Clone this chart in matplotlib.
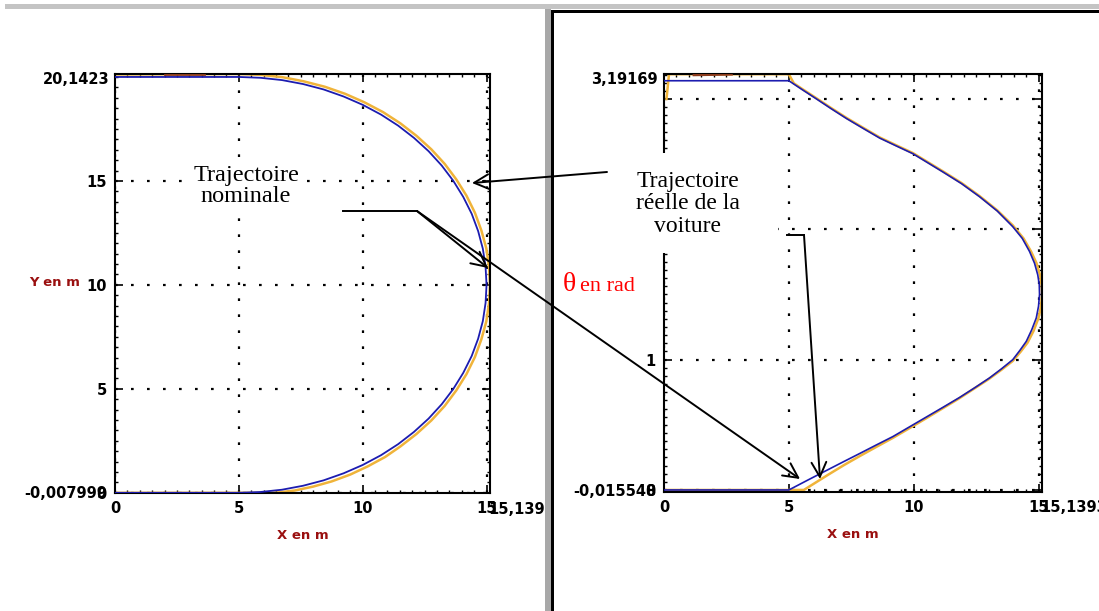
import matplotlib.pyplot as plt
from matplotlib.patches import Rectangle, FancyArrowPatch
from matplotlib.lines import Line2D
from matplotlib.ticker import MultipleLocator, FixedLocator

W, H = 1099, 611

# vue de dessus : y (m) en fonction de x (m)
x_nom = [0.0, 5.0, 5.87, 6.74, 7.59, 8.42, 9.23, 10.0, 10.74, 11.43, 12.07, 12.66,
         13.19, 13.66, 14.06, 14.4, 14.66, 14.85, 14.96, 15.0, 14.96, 14.85, 14.66,
         14.4, 14.06, 13.66, 13.19, 12.66, 12.07, 11.43, 10.74, 10.0, 9.23, 8.42,
         7.59, 6.74, 5.87, 5.0, 0.0]
y_nom = [20.0, 20.0, 19.96, 19.85, 19.66, 19.4, 19.06, 18.66, 18.19, 17.66, 17.07,
         16.43, 15.74, 15.0, 14.23, 13.42, 12.59, 11.74, 10.87, 10.0, 9.13, 8.26,
         7.41, 6.58, 5.77, 5.0, 4.26, 3.57, 2.93, 2.34, 1.81, 1.34, 0.94, 0.6,
         0.34, 0.15, 0.04, 0.0, 0.0]
x_reel = [0.0, 5.0, 5.88, 6.76, 7.62, 8.47, 9.29, 10.07, 10.82, 11.52, 12.17, 12.77,
          13.31, 13.78, 14.19, 14.53, 14.79, 14.99, 15.1, 15.14, 15.1, 14.99, 14.79,
          14.53, 14.19, 13.78, 13.31, 12.77, 12.17, 11.52, 10.9, 10.2, 9.5, 8.75,
          8.0, 7.25, 6.6, 6.3, 0.0]
y_reel = [20.12, 20.14, 20.1, 19.99, 19.79, 19.53, 19.19, 18.78, 18.31, 17.77, 17.17,
          16.52, 15.82, 15.07, 14.29, 13.47, 12.62, 11.76, 10.88, 10.0, 9.12, 8.24,
          7.38, 6.53, 5.71, 4.93, 4.18, 3.48, 2.83, 2.23, 1.72, 1.27, 0.88, 0.55,
          0.3, 0.11, 0.02, 0.0, 0.0]
x_cons = [2.0, 3.6]
y_cons = [20.12, 20.12]

# angle theta (rad) en fonction de x (m)
xt_nom = [0.0, 5.0, 5.55, 6.11, 6.7, 7.31, 7.97, 8.64, 9.3, 9.97, 10.57, 11.17, 11.92,
          12.64, 13.35, 13.97, 14.35, 14.64, 14.84, 14.97, 15.03, 15.04, 15.0, 14.91,
          14.73, 14.51, 14.25, 13.97, 13.52, 13.04, 12.45, 11.84, 11.18, 10.51, 9.84,
          9.17, 8.5, 7.84, 7.17, 6.51, 5.8, 5.1, 5.0, 0.0]
th_nom = [3.14, 3.14, 3.07, 3.0, 2.925, 2.85, 2.775, 2.7, 2.64, 2.58, 2.51, 2.44, 2.35,
          2.25, 2.14, 2.02, 1.93, 1.83, 1.74, 1.65, 1.575, 1.5, 1.41, 1.32, 1.23, 1.14,
          1.07, 1.0, 0.93, 0.86, 0.785, 0.71, 0.635, 0.56, 0.485, 0.41, 0.345, 0.28,
          0.215, 0.15, 0.08, 0.01, 0.0, 0.0]
xt_reel = [0.1, 0.2, 5.0, 5.2, 5.55, 6.11, 6.7, 7.31, 7.97, 8.64, 9.3, 9.97, 10.57,
           11.17, 11.92, 12.64, 13.35, 13.97, 14.4, 14.7, 14.92, 15.06, 15.12, 15.14,
           15.1, 15.0, 14.8, 14.56, 14.28, 13.97, 13.5, 13.0, 12.4, 11.8, 11.15, 10.5,
           9.84, 9.17, 8.5, 7.84, 7.2, 6.6, 6.1, 5.6, 0.0]
th_reel = [3.0, 3.19, 3.19, 3.12, 3.075, 3.005, 2.93, 2.855, 2.78, 2.705, 2.645, 2.585,
           2.515, 2.445, 2.355, 2.255, 2.145, 2.03, 1.93, 1.83, 1.74, 1.65, 1.575, 1.5,
           1.41, 1.32, 1.22, 1.13, 1.06, 0.99, 0.92, 0.85, 0.775, 0.7, 0.625, 0.55,
           0.475, 0.4, 0.33, 0.26, 0.19, 0.12, 0.06, 0.0, 0.0]
xt_cons = [1.2, 2.7]
th_cons = [3.185, 3.19]

# bornes affichees par le logiciel
xlim_g, ylim_g = (0.0, 15.1393), (-0.007999, 20.1423)
xlim_d, ylim_d = (0.0, 15.1393), (-0.015548, 3.19169)
lab_xmax = "15,1393"
lab_g = ("20,1423", "-0,007999")
lab_d = ("3,19169", "-0,015548")
yticks_g, ylabs_g = [0, 5, 10, 15], ["0", "5", "10", "15"]
yticks_d, ylabs_d = [0, 1, 2, 3], ["0", "1", "", ""]
xticks, xlabs = [0, 5, 10, 15], ["0", "5", "10", "15"]

BLEU = "#1c1cb0"
ORANGE = "#f0b43a"
BRUN = "#8a3a1c"
ROUGE_AXE = "#9a1010"
tick_font = dict(family="DejaVu Sans", weight="bold", size=10.5)


def px(x, y):
    return x / W, 1 - y / H


fig = plt.figure(figsize=(W / 100, H / 100), dpi=100)
fig.patch.set_facecolor("white")


def panneau(l, r, t, b, xlim, ylim, yticks, ylabs, ymin_step, lab_lim):
    ax = fig.add_axes([l / W, 1 - b / H, (r - l) / W, (b - t) / H])
    ax.set_xlim(xlim)
    ax.set_ylim(ylim)
    ax.xaxis.set_major_locator(FixedLocator(xticks))
    ax.yaxis.set_major_locator(FixedLocator(yticks))
    ax.set_xticklabels(xlabs, fontdict=tick_font)
    ax.set_yticklabels(ylabs, fontdict=tick_font)
    ax.xaxis.set_minor_locator(MultipleLocator(0.5))
    ax.yaxis.set_minor_locator(MultipleLocator(ymin_step))
    ax.tick_params(which="both", direction="in", top=True, right=True, colors="k")
    ax.tick_params(which="major", length=6, width=1.2, pad=6)
    ax.tick_params(which="minor", length=2.5, width=1)
    for s in ax.spines.values():
        s.set_linewidth(1.5)
    ax.grid(True, which="major", color="k", linestyle=(0, (1.2, 6)), linewidth=1.6)
    ax.set_xlabel("X en m", color=ROUGE_AXE, fontsize=9.5, fontweight="bold",
                  labelpad=9)
    ax.annotate(lab_xmax, xy=(1, 0), xycoords="axes fraction", xytext=(-2, -16),
                textcoords="offset pixels", ha="left", va="center", **tick_font)
    ax.annotate(lab_lim[0], xy=(0, 1), xycoords="axes fraction", xytext=(-6, -6),
                textcoords="offset pixels", ha="right", va="center", **tick_font)
    ax.annotate(lab_lim[1], xy=(0, 0), xycoords="axes fraction", xytext=(-8, 0),
                textcoords="offset pixels", ha="right", va="center", **tick_font)
    return ax


ax1 = panneau(115, 490, 74, 493, xlim_g, ylim_g, yticks_g, ylabs_g, 0.5, lab_g)
ax1.plot(x_reel, y_reel, color=ORANGE, lw=1.8, zorder=2.5)
ax1.plot(x_nom, y_nom, color=BLEU, lw=1.3, zorder=3)
ax1.plot(x_cons, y_cons, color=BRUN, lw=2, zorder=3)

ax2 = panneau(664, 1042, 74, 492, xlim_d, ylim_d, yticks_d, ylabs_d, 0.0625, lab_d)
ax2.plot(xt_reel, th_reel, color=ORANGE, lw=1.8, zorder=2.5)
ax2.plot(xt_nom, th_nom, color=BLEU, lw=1.2, zorder=3)
ax2.plot(xt_cons, th_cons, color=BRUN, lw=2, zorder=3)

fig.text(*px(55, 283), "Y en m", color=ROUGE_AXE, fontsize=9.5, fontweight="bold",
         ha="center", va="center")


def rect(x0, y0, x1, y1, color, z=1):
    fig.add_artist(Rectangle(px(x0, y1), (x1 - x0) / W, (y1 - y0) / H,
                             transform=fig.transFigure, facecolor=color,
                             edgecolor="none", zorder=z))


# cadres de la capture
rect(5, 4, W, 9, "#c4c4c4")
rect(545, 9, 551, H, "#a8a8a8")
rect(551, 10, 554, H, "black")
rect(551, 10, W, 13, "black")

# zones de texte
rect(188, 158, 303, 212, "white", z=4)
rect(625, 153, 778, 253, "white", z=4)
serif = "Liberation Serif"
fig.text(*px(246, 186), "Trajectoire\nnominale", family=serif, fontsize=17.5,
         ha="center", va="center", linespacing=1.05, zorder=5)
fig.text(*px(688, 204), "Trajectoire\nréelle de la\nvoiture", family=serif,
         fontsize=17, ha="center", va="center", linespacing=1.12, zorder=5)
fig.text(*px(563, 291), "θ", family=serif, fontsize=20, color="red",
         ha="left", va="baseline", zorder=5)
fig.text(*px(580, 291), "en rad", family=serif, fontsize=16, color="red",
         ha="left", va="baseline", zorder=5)


def trait(x0, y0, x1, y1):
    a, b = px(x0, y0)
    c, d = px(x1, y1)
    fig.add_artist(Line2D([a, c], [b, d], transform=fig.transFigure,
                          color="black", lw=1.4, zorder=6))


def fleche(x0, y0, x1, y1):
    fig.add_artist(FancyArrowPatch(px(x0, y0), px(x1, y1), transform=fig.transFigure,
                                   arrowstyle="->,head_length=0.75,head_width=0.38",
                                   mutation_scale=14, color="black", lw=1.4,
                                   shrinkA=0, shrinkB=0, zorder=6))


fleche(607, 172, 472, 183)
trait(343, 211, 417, 211)
fleche(417, 211, 488, 268)
fleche(417, 211, 800, 479)
trait(787, 235, 804, 235)
fleche(804, 235, 820, 479)

fig.savefig("out.png", dpi=100)
